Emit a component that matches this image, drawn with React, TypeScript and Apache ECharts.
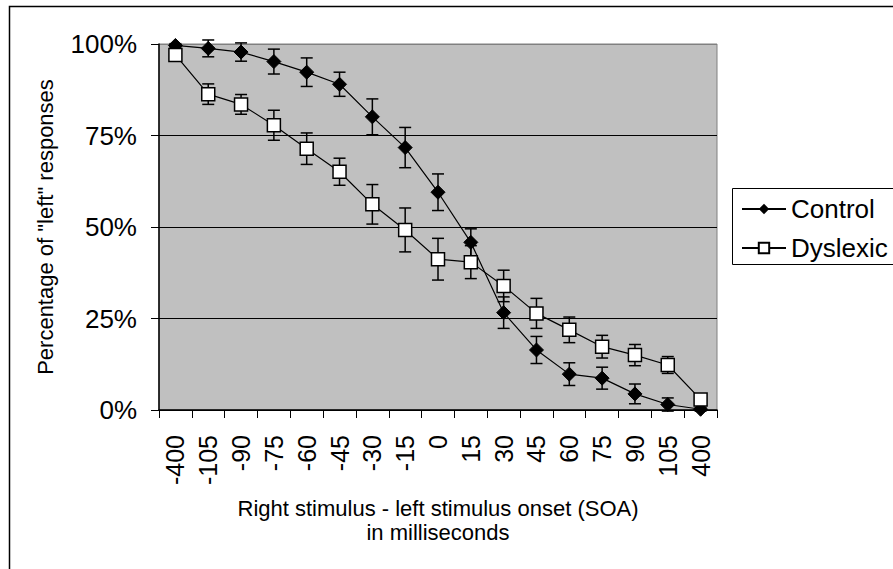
import React, { useEffect, useRef } from "react";
import * as echarts from "echarts";

const categories = ["-400", "-105", "-90", "-75", "-60", "-45", "-30", "-15", "0", "15", "30", "45", "60", "75", "90", "105", "400"];
const control = [99.6, 98.8, 97.8, 95.2, 92.3, 89.0, 80.1, 71.7, 59.5, 45.8, 26.6, 16.4, 9.8, 8.7, 4.4, 1.5, 0.2];
const controlErr = [0.5, 2.3, 2.5, 3.4, 3.9, 3.3, 4.9, 5.5, 5.0, 3.7, 4.3, 3.7, 3.1, 3.0, 2.7, 1.8, 0.5];
const dyslexic = [97.0, 86.3, 83.5, 77.8, 71.4, 65.1, 56.2, 49.2, 41.2, 40.4, 33.9, 26.4, 21.9, 17.3, 15.0, 12.3, 2.9];
const dyslexicErr = [0.5, 2.8, 2.7, 4.1, 4.3, 3.7, 5.4, 6.0, 5.7, 4.5, 4.3, 4.1, 3.5, 3.1, 2.9, 2.3, 1.0];

const FONT = "'Liberation Sans', Arial, sans-serif";

function errData(vals: number[], errs: number[]) {
  return vals.map((v, i) => [i, v - errs[i], v + errs[i]]);
}

function renderErr(params: any, api: any) {
  const x = api.value(0);
  const lo = api.coord([x, api.value(1)]);
  const hi = api.coord([x, api.value(2)]);
  const w = 6;
  const style = { stroke: "#000", lineWidth: 1.5 };
  return {
    type: "group",
    children: [
      { type: "line", shape: { x1: lo[0], y1: lo[1], x2: hi[0], y2: hi[1] }, style },
      { type: "line", shape: { x1: lo[0] - w, y1: lo[1], x2: lo[0] + w, y2: lo[1] }, style },
      { type: "line", shape: { x1: hi[0] - w, y1: hi[1], x2: hi[0] + w, y2: hi[1] }, style },
    ],
  };
}

export default function App() {
  const ref = useRef<HTMLDivElement>(null);
  useEffect(() => {
    if (!ref.current) return;
    const chart = echarts.init(ref.current, undefined, { renderer: "svg" });
    chart.setOption({
      animation: false,
      backgroundColor: "#fff",
      textStyle: { fontFamily: FONT },
      grid: {
        left: 159,
        right: 176,
        top: 44,
        bottom: 159,
        show: true,
        backgroundColor: "#C0C0C0",
        borderColor: "#808080",
        borderWidth: 1,
      },
      graphic: [
        {
          type: "rect",
          shape: { x: 9.5, y: 6.5, width: 1000, height: 1000 },
          style: { fill: "none", stroke: "#000", lineWidth: 1.5 },
          silent: true,
        },
        {
          type: "rect",
          shape: { x: 732.5, y: 188.5, width: 300, height: 76 },
          style: { fill: "#fff", stroke: "#000", lineWidth: 1 },
          silent: true,
        },
      ],
      legend: {
        orient: "vertical",
        left: 741,
        top: 196,
        padding: 0,
        itemWidth: 44,
        itemHeight: 13,
        itemGap: 13,
        textStyle: { fontSize: 26, color: "#000", fontFamily: FONT },
        data: ["Control", "Dyslexic"],
      },
      xAxis: {
        type: "category",
        data: categories,
        boundaryGap: true,
        axisLine: { lineStyle: { color: "#000", width: 1.5 } },
        axisTick: { show: true, interval: 0, length: 8, lineStyle: { color: "#000" } },
        axisLabel: { interval: 0, rotate: 90, fontSize: 25, color: "#000", margin: 25, fontFamily: FONT },
        name: "Right stimulus - left stimulus onset (SOA)\nin milliseconds",
        nameLocation: "middle",
        nameGap: 86,
        nameTextStyle: { fontSize: 22, color: "#000", lineHeight: 24, fontFamily: FONT },
      },
      yAxis: {
        type: "value",
        min: 0,
        max: 100,
        interval: 25,
        axisLine: { show: true, lineStyle: { color: "#000", width: 1.5 } },
        axisTick: { show: true, length: 8, lineStyle: { color: "#000" } },
        axisLabel: { formatter: "{value}%", fontSize: 26, color: "#000", margin: 22, fontFamily: FONT },
        splitLine: { show: true, lineStyle: { color: ["#000", "#000", "#000", "#000", "#808080"], width: 1 } },
        name: 'Percentage of "left" responses',
        nameLocation: "middle",
        nameGap: 103,
        nameTextStyle: { fontSize: 22, color: "#000", fontFamily: FONT },
      },
      series: [
        {
          type: "custom",
          name: "ctrlErr",
          renderItem: renderErr,
          data: errData(control, controlErr),
          encode: { x: 0, y: [1, 2] },
          z: 2,
          clip: false,
        },
        {
          type: "custom",
          name: "dysErr",
          renderItem: renderErr,
          data: errData(dyslexic, dyslexicErr),
          encode: { x: 0, y: [1, 2] },
          z: 2,
          clip: false,
        },
        {
          type: "line",
          name: "Control",
          data: control,
          symbol: "diamond",
          symbolSize: 14,
          lineStyle: { color: "#000", width: 1.2 },
          itemStyle: { color: "#000", borderColor: "#000" },
          z: 3,
        },
        {
          type: "line",
          name: "Dyslexic",
          data: dyslexic,
          symbol: "rect",
          symbolSize: 13,
          lineStyle: { color: "#000", width: 1.2 },
          itemStyle: { color: "#fff", borderColor: "#000", borderWidth: 1.5 },
          z: 4,
        },
      ],
    });
    return () => chart.dispose();
  }, []);
  return <div ref={ref} style={{ position: "absolute", left: 0, top: 0, width: 893, height: 569 }} />;
}
